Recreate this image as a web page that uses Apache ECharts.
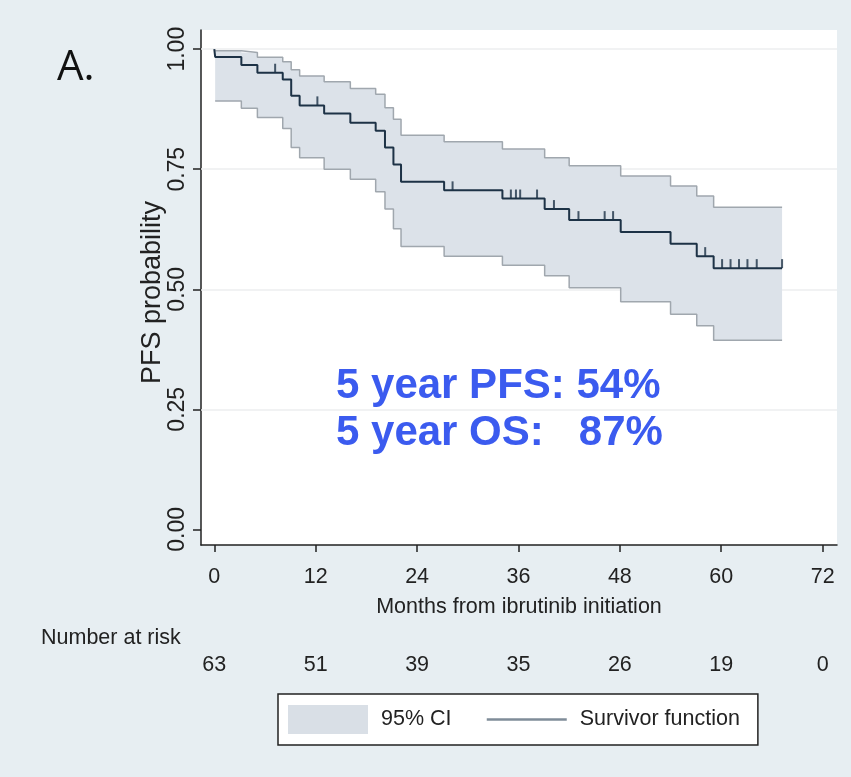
<!DOCTYPE html>
<html>
<head>
<meta charset="utf-8">
<script src="https://cdn.jsdelivr.net/npm/echarts@6/dist/echarts.min.js"></script>
<style>
html, body { margin: 0; padding: 0; background: #e7eef2; }
#main { width: 851px; height: 777px; }
</style>
</head>
<body>
<div id="main"></div>
<script>
// Kaplan-Meier PFS, months from ibrutinib initiation
var survTimes = [0, 0.1, 3.2, 5.1, 8.1, 9.1, 10.1, 13.0, 16.1, 19.1, 20.2, 21.2, 22.1, 27.2, 34.1, 39.1, 42.0, 48.1, 54.0, 57.1, 59.1, 67.2];
var survival  = [1.0, 0.984, 0.967, 0.951, 0.937, 0.903, 0.883, 0.866, 0.847, 0.830, 0.795, 0.760, 0.724, 0.706, 0.689, 0.667, 0.644, 0.619, 0.595, 0.569, 0.544, 0.544];

// 95% CI, same change points (starts at first event)
var ciTimes = [0.1, 3.2, 5.1, 8.1, 9.1, 10.1, 13.0, 16.1, 19.1, 20.2, 21.2, 22.1, 27.2, 34.1, 39.1, 42.0, 48.1, 54.0, 57.1, 59.1, 67.2];
var ciUpper = [0.997, 0.993, 0.983, 0.974, 0.957, 0.944, 0.932, 0.918, 0.906, 0.878, 0.854, 0.821, 0.807, 0.792, 0.774, 0.757, 0.736, 0.715, 0.694, 0.671, 0.671];
var ciLower = [0.892, 0.877, 0.858, 0.835, 0.795, 0.774, 0.750, 0.729, 0.703, 0.667, 0.626, 0.589, 0.569, 0.550, 0.528, 0.503, 0.474, 0.448, 0.424, 0.394, 0.394];

// censored observations
var censorTimes = [7.2, 12.2, 28.2, 35.1, 35.7, 36.2, 38.2, 40.2, 43.1, 46.2, 47.2, 58.1, 60.1, 61.1, 62.1, 63.1, 64.2, 67.2];

var xTicks = [0, 12, 24, 36, 48, 60, 72];
var yTicks = [0, 0.25, 0.5, 0.75, 1];
var gridVals = [0.25, 0.5, 0.75, 1];
var riskCounts = [63, 51, 39, 35, 26, 19, 0];

var sans = "'Liberation Sans', Arial, sans-serif";
var ink = '#222';
var bandFill = '#dce2e9';
var bandEdge = '#a0a7ae';
var curveColor = '#1d3246';

function pairs(xs, ys) {
	var out = [];
	for (var i = 0; i < xs.length; i++) {
		out.push([xs[i], ys[i]]);
	}
	return out;
}

// value of the step curve at time t
function survAt(t) {
	var v = survival[0];
	for (var i = 0; i < survTimes.length; i++) {
		if (survTimes[i] <= t) v = survival[i];
	}
	return v;
}

var ciRows = [];
for (var i = 0; i < ciTimes.length; i++) {
	ciRows.push([ciTimes[i], ciLower[i], ciUpper[i]]);
}

// one stepped polygon between lower and upper bound
function renderBand(params, api) {
	if (params.dataIndex !== 0) return null;
	var n = ciRows.length;
	var top = [], bottom = [];
	for (var j = 0; j < n; j++) {
		var t = api.value(0, j);
		var pLo = api.coord([t, api.value(1, j)]);
		var pHi = api.coord([t, api.value(2, j)]);
		if (j > 0) {
			top.push([pHi[0], top[top.length - 1][1]]);
			bottom.push([pLo[0], bottom[bottom.length - 1][1]]);
		}
		top.push(pHi);
		bottom.push(pLo);
	}
	var points = top.concat(bottom.reverse());
	return {
		type: 'polygon',
		shape: { points: points },
		style: { fill: bandFill }
	};
}

var chart = echarts.init(document.getElementById('main'));

var option = {
	backgroundColor: '#e7eef2',
	animation: false,
	grid: {
		left: 201, top: 30, right: 14, bottom: 232,
		show: true, backgroundColor: '#fff', borderWidth: 0,
		containLabel: false, outerBoundsMode: 'none'
	},
	xAxis: [{
		type: 'value', min: -1.575, max: 73.7,
		name: 'Months from ibrutinib initiation',
		nameLocation: 'middle', nameGap: 51, nameMoveOverlap: false,
		nameTextStyle: { fontFamily: sans, fontSize: 21.5, color: ink },
		axisLine: { show: true, onZero: false, lineStyle: { color: ink, width: 1.5 } },
		axisTick: { show: true, length: 7, customValues: xTicks, lineStyle: { color: ink, width: 1.5 } },
		axisLabel: { customValues: xTicks, margin: 21, fontFamily: sans, fontSize: 21.5, color: ink },
		splitLine: { show: false }
	}, {
		// number at risk row
		type: 'value', min: -1.575, max: 73.7, position: 'bottom', offset: 0,
		axisLine: { show: false, onZero: false },
		axisTick: { show: false },
		splitLine: { show: false },
		axisLabel: {
			customValues: xTicks, margin: 109, fontFamily: sans, fontSize: 21.5, color: ink,
			formatter: function (v) {
				return String(riskCounts[xTicks.indexOf(v)]);
			}
		}
	}],
	yAxis: {
		type: 'value', min: -0.0327, max: 1.04,
		name: 'PFS probability', nameLocation: 'middle', nameGap: 35, nameRotate: 90,
		nameMoveOverlap: false,
		nameTextStyle: { fontFamily: sans, fontSize: 27, color: ink, padding: [0, 10, 0, 0] },
		axisLine: { show: true, onZero: false, lineStyle: { color: ink, width: 1.5 } },
		axisTick: { show: true, length: 8, customValues: yTicks, lineStyle: { color: ink, width: 1.5 } },
		axisLabel: {
			customValues: yTicks, rotate: 90, margin: 12,
			fontFamily: sans, fontSize: 23, color: ink,
			formatter: function (v) { return v.toFixed(2); }
		},
		splitLine: { show: false }
	},
	legend: {
		left: 278, top: 694, orient: 'horizontal', selectedMode: false,
		padding: [11, 18, 11, 10], itemGap: 34, itemWidth: 80, itemHeight: 29,
		borderColor: ink, borderWidth: 1.5, backgroundColor: '#fff',
		textStyle: { fontFamily: sans, fontSize: 21.5, color: ink, padding: [0, 0, 0, 8] },
		data: [
			{ name: '95% CI', icon: 'rect', itemStyle: { color: '#d9dfe6', borderWidth: 0 } },
			{ name: 'Survivor function', itemStyle: { opacity: 0 }, lineStyle: { color: '#7f8c99', width: 2.5 } }
		]
	},
	graphic: [
		{ type: 'text', z: 100, left: 57, top: 47, style: { text: 'A.', font: "42px 'Open Sans'", fill: '#111' } },
		{ type: 'text', z: 100, left: 41, top: 627, style: { text: 'Number at risk', font: '21.5px ' + sans, fill: ink } },
		{ type: 'text', z: 100, left: 336, top: 365, style: { text: '5 year PFS: 54%', font: 'bold 42px ' + sans, fill: '#3b5bef' } },
		{ type: 'text', z: 100, left: 336, top: 412, style: { text: '5 year OS:   87%', font: 'bold 42px ' + sans, fill: '#3b5bef' } }
	],
	series: [{
		// faint horizontal grid, kept under everything else
		name: 'grid',
		type: 'line', silent: true, z: 1, symbol: 'none',
		data: [],
		markLine: {
			silent: true, symbol: 'none', z: 1, animation: false,
			label: { show: false },
			lineStyle: { color: '#eceeef', width: 1.5, type: 'solid' },
			data: gridVals.map(function (v) { return { yAxis: v }; })
		}
	}, {
		name: '95% CI',
		type: 'custom', silent: true, z: 6,
		renderItem: renderBand,
		encode: { x: 0, y: [1, 2] },
		itemStyle: { color: '#d9dfe6' },
		data: ciRows
	}, {
		name: 'ci lower',
		type: 'line', step: 'end', symbol: 'none', silent: true, z: 7,
		emphasis: { disabled: true },
		lineStyle: { color: bandEdge, width: 1.5 },
		data: pairs(ciTimes, ciLower)
	}, {
		name: 'ci upper',
		type: 'line', step: 'end', symbol: 'none', silent: true, z: 7,
		emphasis: { disabled: true },
		lineStyle: { color: bandEdge, width: 1.5 },
		data: pairs(ciTimes, ciUpper)
	}, {
		name: 'Survivor function',
		type: 'line', step: 'end', symbol: 'none', silent: true, z: 8,
		emphasis: { disabled: true },
		lineStyle: { color: curveColor, width: 2 },
		itemStyle: { color: curveColor },
		data: pairs(survTimes, survival)
	}, {
		name: 'censored',
		type: 'scatter', symbol: 'rect', symbolSize: [2, 9], symbolOffset: [0, '-50%'],
		silent: true, z: 9,
		itemStyle: { color: curveColor },
		data: censorTimes.map(function (t) { return [t, survAt(t)]; })
	}]
};

chart.setOption(option);
</script>
</body>
</html>
